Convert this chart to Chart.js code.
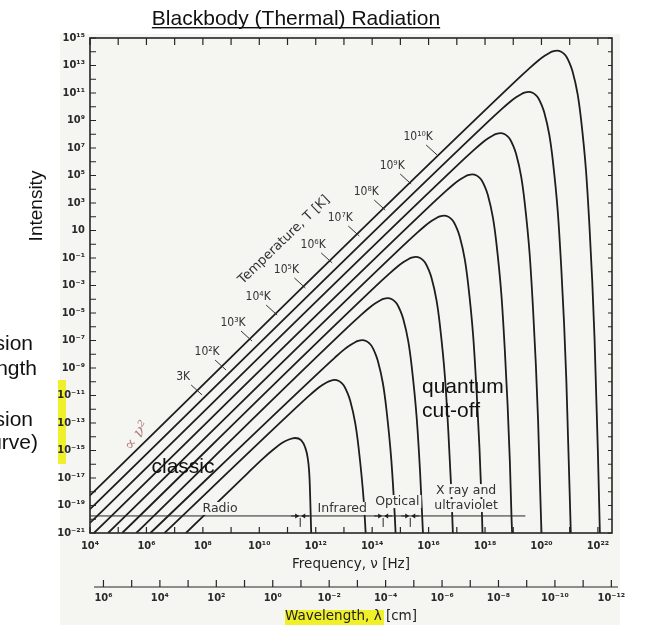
<!DOCTYPE html>
<html>
<head>
<script src="https://cdn.jsdelivr.net/npm/chart.js@4.4.0/dist/chart.umd.min.js"></script>
<style>
  body { margin: 0; background: white; }
  canvas { display: block; }
</style>
</head>
<body>
<canvas id="bb" width="645" height="625"></canvas>
<script>
// all values are log10: frequency in Hz, intensity in the plot's units
const temps = ['3K', '10²K', '10³K', '10⁴K', '10⁵K', '10⁶K', '10⁷K', '10⁸K', '10⁹K', '10¹⁰K'];

const nu3K = [7.40, 9.60, 10.10, 10.50, 10.80, 11.05, 11.27, 11.48, 11.62, 11.72, 11.78, 11.84];
const in3K = [-21, -16.62, -15.64, -14.93, -14.46, -14.20, -14.09, -14.25, -14.75, -15.60, -17.00, -21];

const nu1e2 = [6.64, 11.22, 11.70, 12.00, 12.22, 12.40, 12.52, 12.67, 12.82, 12.92, 13.00, 13.12, 13.22, 13.40, 13.52, 13.70, 13.77];
const in1e2 = [-21, -12.05, -11.14, -10.60, -10.26, -10.04, -9.93, -9.87, -9.95, -10.10, -10.29, -10.79, -11.37, -13.01, -14.81, -18.62, -21];

const nu1e3 = [6.14, 12.20, 12.68, 12.98, 13.20, 13.38, 13.50, 13.65, 13.80, 13.90, 13.98, 14.10, 14.20, 14.38, 14.50, 14.68, 14.80, 14.83];
const in1e3 = [-21, -9.15, -8.24, -7.70, -7.36, -7.14, -7.03, -6.97, -7.05, -7.20, -7.39, -7.89, -8.47, -10.11, -11.91, -15.72, -19.69, -21];

const nu1e4 = [5.64, 13.10, 13.58, 13.88, 14.10, 14.28, 14.40, 14.55, 14.70, 14.80, 14.88, 15.00, 15.10, 15.28, 15.40, 15.58, 15.70, 15.80];
const in1e4 = [-21, -6.10, -5.19, -4.65, -4.31, -4.09, -3.98, -3.92, -4.00, -4.15, -4.34, -4.84, -5.42, -7.06, -8.86, -12.67, -16.64, -21];

const nu1e5 = [5.14, 14.10, 14.58, 14.88, 15.10, 15.28, 15.40, 15.55, 15.70, 15.80, 15.88, 16.00, 16.10, 16.28, 16.40, 16.58, 16.70, 16.80, 16.86];
const in1e5 = [-21, -3.10, -2.19, -1.65, -1.31, -1.09, -0.98, -0.92, -1.00, -1.15, -1.34, -1.84, -2.42, -4.06, -5.86, -9.67, -13.64, -17.69, -21];

const nu1e6 = [4.64, 15.10, 15.58, 15.88, 16.10, 16.28, 16.40, 16.55, 16.70, 16.80, 16.88, 17.00, 17.10, 17.28, 17.40, 17.58, 17.70, 17.80, 17.88, 17.91];
const in1e6 = [-21, -0.10, 0.81, 1.35, 1.69, 1.91, 2.02, 2.08, 2.00, 1.85, 1.66, 1.16, 0.58, -1.06, -2.86, -6.67, -10.64, -14.69, -18.79, -21];

const nu1e7 = [4.14, 16.10, 16.58, 16.88, 17.10, 17.28, 17.40, 17.55, 17.70, 17.80, 17.88, 18.00, 18.10, 18.28, 18.40, 18.58, 18.70, 18.80, 18.88, 18.94, 18.96];
const in1e7 = [-21, 2.90, 3.81, 4.35, 4.69, 4.91, 5.02, 5.08, 5.00, 4.85, 4.66, 4.16, 3.58, 1.94, 0.14, -3.67, -7.64, -11.69, -15.79, -19.94, -21];

const nu1e8 = [4, 17.10, 17.58, 17.88, 18.10, 18.28, 18.40, 18.55, 18.70, 18.80, 18.88, 19.00, 19.10, 19.28, 19.40, 19.58, 19.70, 19.80, 19.88, 19.94, 20.00];
const in1e8 = [-20.27, 5.90, 6.81, 7.35, 7.69, 7.91, 8.02, 8.08, 8.00, 7.85, 7.66, 7.16, 6.58, 4.94, 3.14, -0.67, -4.64, -8.69, -12.79, -16.94, -21];

const nu1e9 = [4, 18.10, 18.58, 18.88, 19.10, 19.28, 19.40, 19.55, 19.70, 19.80, 19.88, 20.00, 20.10, 20.28, 20.40, 20.58, 20.70, 20.80, 20.88, 20.94, 21.00, 21.04];
const in1e9 = [-19.27, 8.90, 9.81, 10.35, 10.69, 10.91, 11.02, 11.08, 11.00, 10.85, 10.66, 10.16, 9.58, 7.94, 6.14, 2.33, -1.64, -5.69, -9.79, -13.94, -18.10, -21];

const nu1e10 = [4, 19.10, 19.58, 19.88, 20.10, 20.28, 20.40, 20.55, 20.70, 20.80, 20.88, 21.00, 21.10, 21.28, 21.40, 21.58, 21.70, 21.80, 21.88, 21.94, 22.00, 22.07];
const in1e10 = [-18.27, 11.90, 12.81, 13.35, 13.69, 13.91, 14.02, 14.08, 14.00, 13.85, 13.66, 13.16, 12.58, 10.94, 9.14, 5.33, 1.36, -2.69, -6.79, -10.94, -15.10, -21];

const curveNu = [nu3K, nu1e2, nu1e3, nu1e4, nu1e5, nu1e6, nu1e7, nu1e8, nu1e9, nu1e10];
const curveIn = [in3K, in1e2, in1e3, in1e4, in1e5, in1e6, in1e7, in1e8, in1e9, in1e10];

// axes (exponents)
const freqRange = [4, 22.5];
const intRange = [-21, 15];
const freqLabelExp = [4, 6, 8, 10, 12, 14, 16, 18, 20, 22];
const intLabelExp = [15, 13, 11, 9, 7, 5, 3, 1, -1, -3, -5, -7, -9, -11, -13, -15, -17, -19, -21];
const waveLabelExp = [6, 4, 2, 0, -2, -4, -6, -8, -10, -12];
const lightExp = Math.log10(2.998e10); // c in cm/s, lambda = c / nu

// temperature labels on the diagonal
const tempLabelNu = [7.30, 8.15, 9.07, 9.96, 10.96, 11.91, 12.87, 13.79, 14.71, 15.63];
const tempLabelIn = [-9.65, -7.84, -5.73, -3.84, -1.87, -0.05, 1.91, 3.80, 5.69, 7.80];

// spectral bands along the bottom
const bandNames = ['Radio', 'Infrared', 'Optical', 'X ray and', 'ultraviolet'];
const bandNu = [8.61, 12.94, 14.89, 17.33, 17.33];
const bandIn = [-19.25, -19.25, -18.75, -17.95, -19.04];
const bandEdges = [11.45, 14.39, 15.35];
const bandLineIn = -19.76;
const bandLineEnd = 19.43;

const sup = s => String(s).replace(/[-0-9]/g, ch => '⁻⁰¹²³⁴⁵⁶⁷⁸⁹'['-0123456789'.indexOf(ch)]);
const pow10 = e => e === 1 ? '10' : '10' + sup(e);
const range = (a, b) => { const r = []; for (let i = a; i <= b; i++) r.push(i); return r; };

const scanBg = '#f5f5f2';
const ink = '#1e1e1e';
const condensed = '"DejaVu Sans Condensed", "DejaVu Sans"';

const datasets = curveNu.map((nus, k) => ({
    label: temps[k],
    data: nus.map((v, i) => ({ x: 10 ** v, y: 10 ** curveIn[k][i] })),
    borderColor: ink,
    borderWidth: 1.8,
    pointRadius: 0,
    fill: false,
    cubicInterpolationMode: 'monotone',
    xAxisID: 'x',
    yAxisID: 'y'
}));

const tickFont = { family: condensed, size: 11, weight: 'bold' };
const titleFont = { family: 'DejaVu Sans', size: 13.5 };

const decor = {
    id: 'decor',
    beforeDraw(chart) {
        const c = chart.ctx;
        c.save();
        c.fillStyle = '#ffffff';
        c.fillRect(0, 0, chart.width, chart.height);
        c.fillStyle = scanBg;
        c.fillRect(60, 34, 560, 591);
        c.fillStyle = 'rgba(238,240,20,0.9)';
        c.fillRect(58, 380, 8, 84);
        c.fillRect(285, 610, 99, 15);
        c.restore();
    },
    afterDatasetsDraw(chart) {
        const c = chart.ctx;
        const { left, right, top, bottom } = chart.chartArea;
        const x = chart.scales.x, y = chart.scales.y, x2 = chart.scales.x2;
        const px = v => x.getPixelForValue(10 ** v);
        const py = v => y.getPixelForValue(10 ** v);
        c.save();

        // frame
        c.strokeStyle = '#262626';
        c.lineWidth = 1.6;
        c.strokeRect(left, top, right - left, bottom - top);

        // inward ticks every decade
        c.lineWidth = 1.2;
        c.beginPath();
        range(Math.ceil(freqRange[0]), Math.floor(freqRange[1])).forEach(e => {
            const p = px(e);
            c.moveTo(p, bottom); c.lineTo(p, bottom - 6);
            c.moveTo(p, top); c.lineTo(p, top + 7);
        });
        range(intRange[0], intRange[1]).forEach(e => {
            const p = py(e);
            c.moveTo(left, p); c.lineTo(left + 6, p);
            c.moveTo(right, p); c.lineTo(right - 4, p);
        });
        // wavelength axis line with upward ticks
        c.moveTo(x2.left + 4, x2.top); c.lineTo(x2.right + 6, x2.top);
        range(-12, 6).forEach(e => {
            const p = x2.getPixelForValue(10 ** e);
            c.moveTo(p, x2.top); c.lineTo(p, x2.top - 7);
        });
        c.stroke();

        // band line, edges and arrows
        const yl = py(bandLineIn);
        c.lineWidth = 1;
        c.beginPath();
        c.moveTo(left, yl); c.lineTo(px(bandLineEnd), yl);
        bandEdges.forEach(b => {
            const p = px(b);
            c.moveTo(p, yl + 2); c.lineTo(p, yl + 11);
            c.moveTo(p - 9, yl); c.lineTo(p - 2, yl);
            c.moveTo(p + 9, yl); c.lineTo(p + 2, yl);
        });
        c.stroke();
        c.fillStyle = ink;
        bandEdges.forEach(b => {
            const p = px(b);
            c.beginPath(); c.moveTo(p - 1, yl); c.lineTo(p - 5, yl - 2.5); c.lineTo(p - 5, yl + 2.5); c.fill();
            c.beginPath(); c.moveTo(p + 1, yl); c.lineTo(p + 5, yl - 2.5); c.lineTo(p + 5, yl + 2.5); c.fill();
        });

        // band names (paper shows through, curves are broken under them)
        c.font = '12.5px "DejaVu Sans"';
        c.textAlign = 'center';
        c.textBaseline = 'middle';
        bandNames.forEach((n, i) => {
            const X = px(bandNu[i]), Y = py(bandIn[i]);
            const w = c.measureText(n).width;
            c.fillStyle = scanBg;
            c.fillRect(X - w / 2 - 2, Y - 7, w + 4, 13);
            c.fillStyle = '#333';
            c.fillText(n, X, Y);
        });

        // temperature labels with leaders
        c.font = '12px ' + condensed;
        temps.forEach((t, i) => {
            const X = px(tempLabelNu[i]), Y = py(tempLabelIn[i]);
            c.fillStyle = '#333';
            c.fillText(t, X, Y);
            c.strokeStyle = '#333';
            c.beginPath();
            c.moveTo(X + 8, Y + 8); c.lineTo(X + 19, Y + 18);
            c.stroke();
        });

        c.translate(px(10.88), py(0.31));
        c.rotate(-44 * Math.PI / 180);
        c.font = '13px "DejaVu Sans"';
        c.fillText('Temperature, T [K]', 0, 0);
        c.setTransform(1, 0, 0, 1, 0, 0);

        c.translate(px(5.67), py(-13.95));
        c.rotate(-55 * Math.PI / 180);
        c.font = 'italic 16px "DejaVu Serif"';
        c.fillStyle = '#b57f7f';
        c.fillText('∝ ν²', 0, 0);
        c.setTransform(1, 0, 0, 1, 0, 0);

        c.restore();
    },
    afterDraw(chart) {
        const c = chart.ctx;
        c.save();
        c.fillStyle = '#111';
        c.font = '21px "Liberation Sans", Arial, sans-serif';
        c.textBaseline = 'alphabetic';

        // title, underlined
        const title = 'Blackbody (Thermal) Radiation';
        const tw = c.measureText(title).width;
        c.textAlign = 'center';
        c.fillText(title, 296, 25);
        c.fillRect(296 - tw / 2, 27, tw, 1.4);

        c.fillText('classic', 183, 473);
        c.textAlign = 'left';
        c.fillText('quantum', 422, 393);
        c.fillText('cut-off', 422, 417);

        // slide text cut at the left edge
        c.textAlign = 'right';
        c.fillText('sion', 33, 350);
        c.fillText('ngth', 37, 375);
        c.fillText('sion', 33, 426);
        c.fillText('urve)', 38, 449);

        c.translate(37, 206);
        c.rotate(-Math.PI / 2);
        c.textAlign = 'center';
        c.textBaseline = 'middle';
        c.font = '19px "Liberation Sans", Arial, sans-serif';
        c.fillText('Intensity', 0, 0);
        c.restore();
    }
};

new Chart(document.getElementById('bb'), {
    type: 'line',
    data: { datasets },
    options: {
        responsive: false,
        animation: false,
        layout: { padding: { left: 0, right: 33, top: 38, bottom: 0 } },
        plugins: { legend: { display: false }, tooltip: { enabled: false } },
        scales: {
            x: {
                type: 'logarithmic',
                position: 'bottom',
                min: 10 ** freqRange[0],
                max: 10 ** freqRange[1],
                grid: { display: false, drawTicks: false },
                border: { display: false },
                afterBuildTicks: s => { s.ticks = range(4, 22).map(e => ({ value: 10 ** e })); },
                afterFit: s => { s.height = 54; },
                ticks: {
                    autoSkip: false, maxRotation: 0, padding: 7,
                    color: '#2a2a2a', font: tickFont,
                    callback: v => { const e = Math.round(Math.log10(v)); return freqLabelExp.includes(e) ? pow10(e) : ''; }
                },
                title: {
                    display: true, text: 'Frequency, ν [Hz]', color: '#222',
                    font: titleFont,
                    padding: { top: 0, bottom: 14 }
                }
            },
            x2: {
                type: 'logarithmic',
                position: 'bottom',
                reverse: true,
                weight: 1,
                min: 10 ** (lightExp - freqRange[1]),
                max: 10 ** (lightExp - freqRange[0]),
                grid: { display: false, drawTicks: false },
                border: { display: false },
                afterBuildTicks: s => { s.ticks = range(-12, 6).map(e => ({ value: 10 ** e })); },
                afterFit: s => { s.height = 38; },
                ticks: {
                    autoSkip: false, maxRotation: 0, padding: 5,
                    color: '#2a2a2a', font: tickFont,
                    callback: v => { const e = Math.round(Math.log10(v)); return waveLabelExp.includes(e) ? pow10(e) : ''; }
                },
                title: {
                    display: true, text: 'Wavelength, λ [cm]', color: '#222',
                    font: titleFont,
                    padding: { top: 0, bottom: 0 }
                }
            },
            y: {
                type: 'logarithmic',
                min: 10 ** intRange[0],
                max: 10 ** intRange[1],
                grid: { display: false, drawTicks: false },
                border: { display: false },
                afterBuildTicks: s => { s.ticks = range(intRange[0], intRange[1]).map(e => ({ value: 10 ** e })); },
                afterFit: s => { s.width = 90; },
                ticks: {
                    autoSkip: false, padding: 5,
                    color: '#2a2a2a', font: tickFont,
                    callback: v => { const e = Math.round(Math.log10(v)); return intLabelExp.includes(e) ? pow10(e) : ''; }
                }
            }
        }
    },
    plugins: [decor]
});
</script>
</body>
</html>
